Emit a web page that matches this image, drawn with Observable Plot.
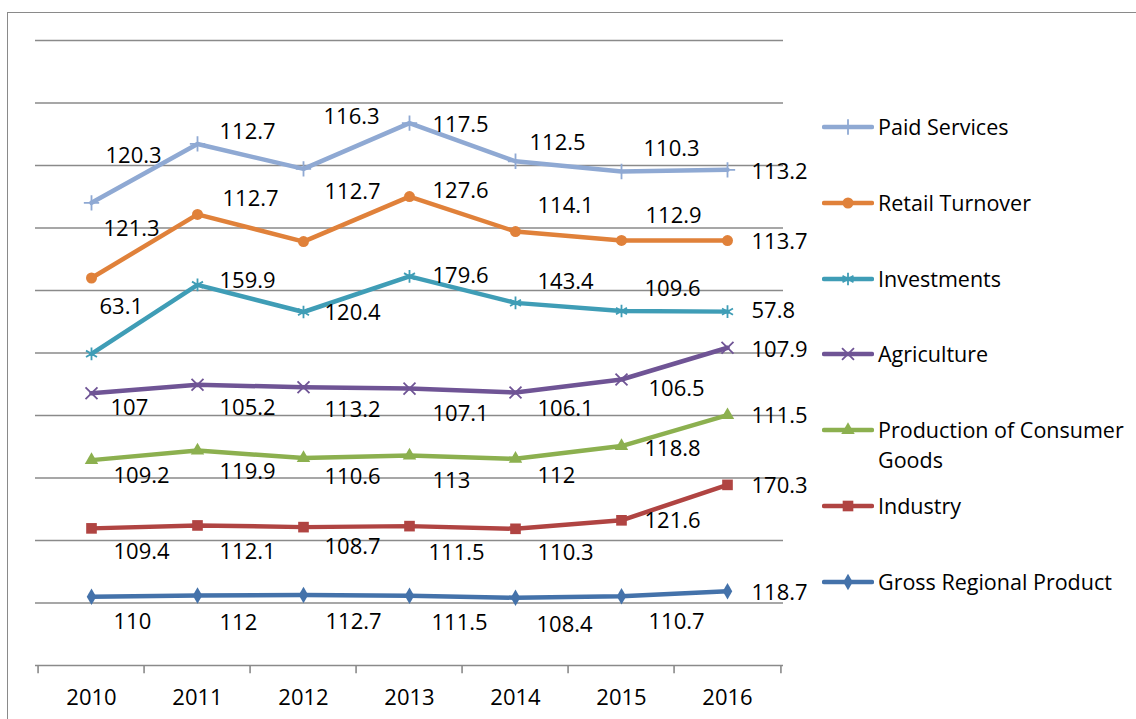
<!DOCTYPE html>
<html>
<head>
<meta charset="utf-8">
<script src="https://cdn.jsdelivr.net/npm/d3@7"></script>
<script src="https://cdn.jsdelivr.net/npm/@observablehq/plot@0.6"></script>
<style>
  html, body { margin: 0; padding: 0; background: #fff; overflow: hidden; }
  #wrap { position: relative; width: 1136px; height: 719px; font-family: "Open Sans", sans-serif; }
  #frame { position: absolute; left: 7px; top: 12px; width: 1300px; height: 900px; border: 1.5px solid #8a8a8a; box-sizing: border-box; }
  #chart { position: absolute; left: 0; top: 0; }
  .item { position: absolute; left: 822px; display: flex; align-items: flex-start; }
  .item svg { display: block; flex: none; }
  .item span { font-size: 21.5px; line-height: 30px; color: #000; margin-left: 4px; white-space: nowrap; }
</style>
</head>
<body>
<div id="wrap">
  <div id="frame"></div>
  <div id="chart"></div>
  <div id="legend"></div>
</div>
<script>
// ---- data ----
const years = ["2010", "2011", "2012", "2013", "2014", "2015", "2016"];
const grossRegionalProduct = [110, 112, 112.7, 111.5, 108.4, 110.7, 118.7];
const industry = [109.4, 112.1, 108.7, 111.5, 110.3, 121.6, 170.3];
const consumerGoods = [109.2, 119.9, 110.6, 113, 112, 118.8, 111.5];
const agriculture = [107, 105.2, 113.2, 107.1, 106.1, 106.5, 107.9];
const investments = [63.1, 159.9, 120.4, 179.6, 143.4, 109.6, 57.8];
const retailTurnover = [121.3, 112.7, 112.7, 127.6, 114.1, 112.9, 113.7];
const paidServices = [120.3, 112.7, 116.3, 117.5, 112.5, 110.3, 113.2];

// stacking order, bottom to top
const stackOrder = [
  ["Gross Regional Product", grossRegionalProduct],
  ["Industry", industry],
  ["Production of Consumer Goods", consumerGoods],
  ["Agriculture", agriculture],
  ["Investments", investments],
  ["Retail Turnover", retailTurnover],
  ["Paid Services", paidServices]
];

// ---- styles ----
const styles = {
  "Paid Services": {color: "#8FA9D3", symbol: "plus", filled: false, r: 5},
  "Retail Turnover": {color: "#E0813A", symbol: "circle", filled: true, r: 5.5},
  "Investments": {color: "#3F9DB6", symbol: "asterisk", filled: false, r: 6},
  "Agriculture": {color: "#6F5495", symbol: "times", filled: false, r: 5.5},
  "Production of Consumer Goods": {color: "#8CB04F", symbol: "triangle", filled: true, r: 5},
  "Industry": {color: "#B04442", symbol: "square", filled: true, r: 6},
  "Gross Regional Product": {color: "#4472AA", symbol: "diamond", filled: true, r: 5}
};

// label placement (pixel offsets: left edge dx, vertical centre dy), per series per year
const labelDx = {
  "Paid Services": [14, 22, 20, 23, 14, 22, 24],
  "Retail Turnover": [12, 25, 21, 23, 22, 24, 24],
  "Investments": [8, 22, 21, 23, 22, 23, 24],
  "Agriculture": [19, 22, 21, 23, 22, 27, 24],
  "Production of Consumer Goods": [22, 22, 21, 23, 22, 23, 24],
  "Industry": [22, 22, 21, 19, 22, 23, 24],
  "Gross Regional Product": [22, 22, 22, 22, 21, 27, 24]
};
const labelDy = {
  "Paid Services": [-47, -12, -52, 2, -18, -23, 2],
  "Retail Turnover": [-49, -15, -50, -6, -26, -24, 1],
  "Investments": [-47, -4, 1, 0, -21, -22, -1],
  "Agriculture": [15, 23, 23, 25, 16, 9, 2],
  "Production of Consumer Goods": [16, 21, 19, 25, 17, 3, 1],
  "Industry": [24, 27, 20, 27, 24, 1, 1],
  "Gross Regional Product": [25, 27, 27, 27, 27, 26, 2]
};

// ---- build stacked rows ----
const rows = [];
const running = years.map(() => 0);
for (const [name, values] of stackOrder) {
  values.forEach((v, i) => {
    running[i] += v;
    rows.push({series: name, year: years[i], i, value: v, top: running[i]});
  });
}

const gridValues = d3.range(100, 1001, 100);
const W = 1136, H = 719, mL = 35, mR = 353, mT = 40, mB = 54;
const step = (W - mL - mR) / years.length;
const fs = 22;

const marks = [];
marks.push(Plot.ruleY(gridValues, {y: d => d, stroke: "#8a8a8a", strokeWidth: 1.6}));
marks.push(Plot.ruleY([0], {y: d => d, stroke: "#8a8a8a", strokeWidth: 1.6}));
marks.push(Plot.ruleX(years, {x: d => d, dx: -step / 2, y1: () => 0, y2: () => -13, stroke: "#8a8a8a", strokeWidth: 1.6}));
marks.push(Plot.ruleX(years.slice(-1), {x: d => d, dx: step / 2, y1: () => 0, y2: () => -13, stroke: "#8a8a8a", strokeWidth: 1.6}));
marks.push(Plot.text(years, {x: d => d, y: () => 0, dy: 32, text: d => d, fontSize: fs, fill: "#000"}));

for (const [name] of stackOrder) {
  const s = styles[name];
  const data = rows.filter(r => r.series === name);
  marks.push(Plot.line(data, {x: "year", y: "top", stroke: s.color, strokeWidth: 4.5, strokeLinejoin: "round", strokeLinecap: "round"}));
  if (s.filled) {
    marks.push(Plot.dot(data, {x: "year", y: "top", symbol: s.symbol, r: s.r, fill: s.color, stroke: "none"}));
  } else {
    marks.push(Plot.dot(data, {x: "year", y: "top", symbol: s.symbol, r: s.r, stroke: s.color, strokeWidth: 1.8, fill: "none"}));
  }
}
for (const row of rows) {
  marks.push(Plot.text([row], {
    x: "year", y: "top", text: d => String(d.value),
    dx: labelDx[row.series][row.i], dy: labelDy[row.series][row.i],
    textAnchor: "start", fontSize: fs, fill: "#000"
  }));
}

const chart = Plot.plot({
  width: W, height: H,
  marginLeft: mL, marginRight: mR, marginTop: mT, marginBottom: mB,
  x: {type: "point", domain: years, padding: 0.5, axis: null},
  y: {domain: [0, 1000], axis: null},
  style: {fontFamily: "'Open Sans', sans-serif", background: "transparent", color: "#000", overflow: "visible"},
  marks
});
document.getElementById("chart").appendChild(chart);

// ---- legend ----
const legendBox = document.getElementById("legend");
const legendOrder = stackOrder.map(d => d[0]).reverse();
const legendLines = {"Production of Consumer Goods": ["Production of Consumer", "Goods"]};
const symbolMap = {
  plus: d3.symbolPlus, circle: d3.symbolCircle, asterisk: d3.symbolAsterisk,
  times: d3.symbolTimes, triangle: d3.symbolTriangle, square: d3.symbolSquare, diamond: d3.symbolDiamond
};
let legendTop = 127 - 15;
for (const name of legendOrder) {
  const s = styles[name];
  const item = document.createElement("div");
  item.className = "item";
  item.style.top = legendTop + "px";
  const svg = d3.create("svg").attr("width", 52).attr("height", 30);
  svg.append("line").attr("x1", 2).attr("x2", 50).attr("y1", 15).attr("y2", 15)
    .attr("stroke", s.color).attr("stroke-width", 4.5).attr("stroke-linecap", "round");
  const path = d3.symbol(symbolMap[s.symbol], Math.PI * s.r * s.r)();
  svg.append("path").attr("d", path).attr("transform", "translate(26,15)")
    .attr("fill", s.filled ? s.color : "none").attr("stroke", s.filled ? "none" : s.color).attr("stroke-width", 1.8);
  item.appendChild(svg.node());
  const span = document.createElement("span");
  const lines = legendLines[name] || [name];
  span.innerHTML = lines.join("<br>");
  item.appendChild(span);
  legendBox.appendChild(item);
  legendTop += 75.8;
}
</script>
</body>
</html>
